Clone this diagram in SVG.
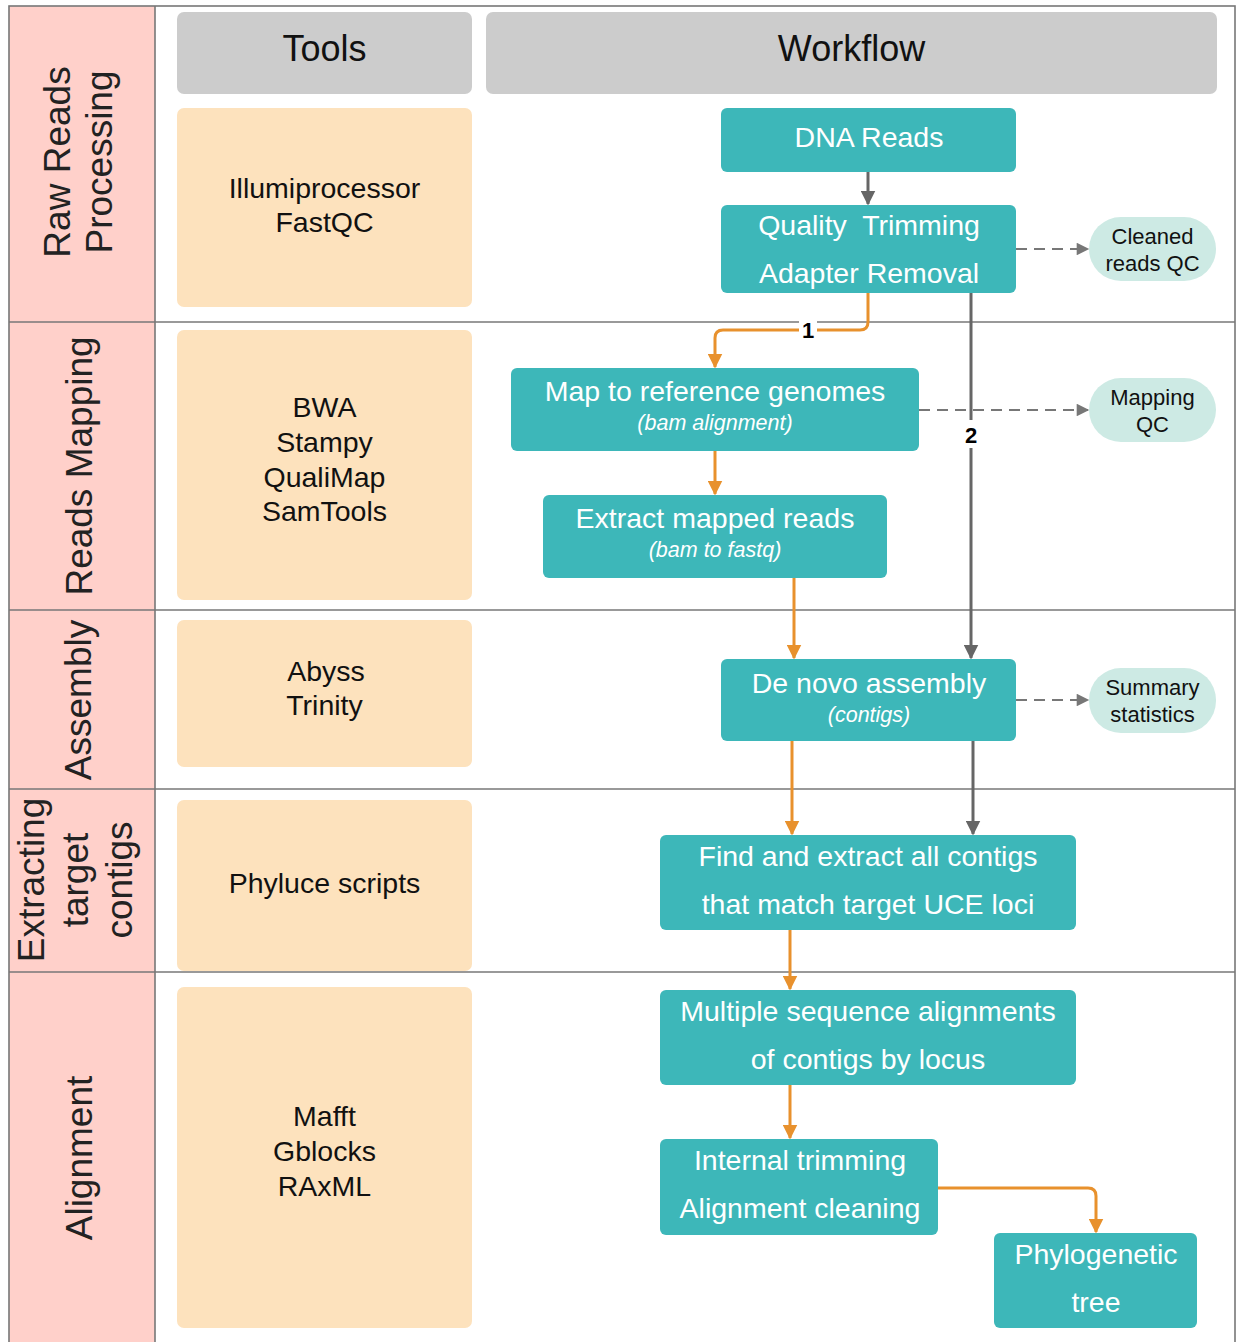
<svg xmlns="http://www.w3.org/2000/svg" width="1236" height="1342" viewBox="0 0 1236 1342">
<style>
text{font-family:"Liberation Sans",Arial,sans-serif;}
.side{font-size:37px;fill:#222;text-anchor:middle;}
.hdr{font-size:36px;fill:#111;text-anchor:middle;}
.tool{font-size:28.5px;fill:#111;text-anchor:middle;}
.step{font-size:28.5px;fill:#fff;text-anchor:middle;}
.sub{font-size:21.5px;fill:#fff;text-anchor:middle;font-style:italic;}
.qc{font-size:22px;fill:#111;text-anchor:middle;}
.num{font-size:22px;font-weight:bold;fill:#000;text-anchor:middle;}
.teal{fill:#3db7b9;}
.pill{fill:#cdeae4;}
.peach{fill:#fde2bd;}
.grey{fill:#cccccc;}
.grid{stroke:#777;stroke-width:1.6;fill:none;}
.or{stroke:#e8912d;stroke-width:3;fill:none;}
.gr{stroke:#666;stroke-width:3;fill:none;}
.da{stroke:#777;stroke-width:1.8;fill:none;stroke-dasharray:11 7;}
</style>
<defs>
<marker id="aOr" viewBox="0 0 10 10" refX="9" refY="5" markerWidth="5" markerHeight="5" orient="auto" markerUnits="strokeWidth"><path d="M0,0 L10,5 L0,10 z" fill="#e8912d"/></marker>
<marker id="aGr" viewBox="0 0 10 10" refX="9" refY="5" markerWidth="5" markerHeight="5" orient="auto" markerUnits="strokeWidth"><path d="M0,0 L10,5 L0,10 z" fill="#666"/></marker>
<marker id="aDa" viewBox="0 0 10 10" refX="9" refY="5" markerWidth="8" markerHeight="7" orient="auto" markerUnits="strokeWidth"><path d="M0,0 L10,5 L0,10 z" fill="#777"/></marker>
</defs>
<rect width="1236" height="1342" fill="#fff"/>
<g id="lanes">
<rect x="9" y="6" width="146" height="1340" fill="#ffd0ca"/>
<rect x="9" y="6" width="1226" height="1340" class="grid"/>
<line x1="155" y1="6" x2="155" y2="1342" class="grid"/>
<line x1="9" y1="322" x2="1235" y2="322" class="grid"/>
<line x1="9" y1="610" x2="1235" y2="610" class="grid"/>
<line x1="9" y1="789" x2="1235" y2="789" class="grid"/>
<line x1="9" y1="972" x2="1235" y2="972" class="grid"/>
<text class="side" transform="translate(80,162) rotate(-90)"><tspan x="0" y="-10">Raw Reads</tspan><tspan x="0" y="32">Processing</tspan></text>
<text class="side" transform="translate(80,466) rotate(-90)" x="0" y="12">Reads Mapping</text>
<text class="side" transform="translate(80,700) rotate(-90)" x="0" y="11">Assembly</text>
<text class="side" transform="translate(80,880) rotate(-90)"><tspan x="0" y="-36">Extracting</tspan><tspan x="0" y="8">target</tspan><tspan x="0" y="52">contigs</tspan></text>
<text class="side" transform="translate(80,1158) rotate(-90)" x="0" y="12">Alignment</text>
</g>
<g id="headers">
<rect x="177" y="12" width="295" height="82" rx="7" class="grey"/>
<text class="hdr" x="324.5" y="61">Tools</text>
<rect x="486" y="12" width="731" height="82" rx="7" class="grey"/>
<text class="hdr" x="851.5" y="61">Workflow</text>
</g>
<g id="tools">
<rect x="177" y="108" width="295" height="199" rx="7" class="peach"/>
<text class="tool" x="324.5" y="198">Illumiprocessor</text>
<text class="tool" x="324.5" y="232">FastQC</text>
<rect x="177" y="330" width="295" height="270" rx="7" class="peach"/>
<text class="tool" x="324.5" y="417">BWA</text>
<text class="tool" x="324.5" y="452">Stampy</text>
<text class="tool" x="324.5" y="487">QualiMap</text>
<text class="tool" x="324.5" y="521">SamTools</text>
<rect x="177" y="620" width="295" height="147" rx="7" class="peach"/>
<text class="tool" x="326" y="681">Abyss</text>
<text class="tool" x="324.5" y="715">Trinity</text>
<rect x="177" y="800" width="295" height="171" rx="7" class="peach"/>
<text class="tool" x="324.5" y="893">Phyluce scripts</text>
<rect x="177" y="987" width="295" height="341" rx="7" class="peach"/>
<text class="tool" x="324.5" y="1126">Mafft</text>
<text class="tool" x="324.5" y="1161">Gblocks</text>
<text class="tool" x="324.5" y="1196">RAxML</text>
</g>
<g id="connectors">
<line x1="868" y1="172" x2="868" y2="204" class="gr" marker-end="url(#aGr)"/>
<path d="M868,293 V322 Q868,330 860,330 H723 Q715,330 715,338 V367" class="or" marker-end="url(#aOr)"/>
<rect x="799" y="319" width="18" height="24" fill="#fff"/>
<text class="num" x="808" y="338">1</text>
<line x1="971" y1="293" x2="971" y2="658" class="gr" marker-end="url(#aGr)"/>
<rect x="961" y="420" width="20" height="28" fill="#fff"/>
<text class="num" x="971" y="443">2</text>
<line x1="1016" y1="249" x2="1088" y2="249" class="da" marker-end="url(#aDa)"/>
<line x1="919" y1="410" x2="1088" y2="410" class="da" marker-end="url(#aDa)"/>
<line x1="715" y1="451" x2="715" y2="494" class="or" marker-end="url(#aOr)"/>
<line x1="794" y1="578" x2="794" y2="658" class="or" marker-end="url(#aOr)"/>
<line x1="1016" y1="700" x2="1088" y2="700" class="da" marker-end="url(#aDa)"/>
<line x1="792" y1="741" x2="792" y2="834" class="or" marker-end="url(#aOr)"/>
<line x1="973" y1="741" x2="973" y2="834" class="gr" marker-end="url(#aGr)"/>
<line x1="790" y1="930" x2="790" y2="989" class="or" marker-end="url(#aOr)"/>
<line x1="790" y1="1085" x2="790" y2="1138" class="or" marker-end="url(#aOr)"/>
<path d="M938,1188 H1088 Q1096,1188 1096,1196 V1232" class="or" marker-end="url(#aOr)"/>
</g>
<g id="dna-reads">
<rect x="721" y="108" width="295" height="64" rx="6" class="teal"/>
<text class="step" x="869" y="147">DNA Reads</text>
</g>
<g id="quality-trimming">
<rect x="721" y="205" width="295" height="88" rx="6" class="teal"/>
<text class="step" x="869" y="235">Quality&#160; Trimming</text>
<text class="step" x="869" y="283">Adapter Removal</text>
</g>
<g id="cleaned-qc">
<rect x="1089" y="217" width="127" height="64" rx="32" class="pill"/>
<text class="qc" x="1152.5" y="244">Cleaned</text>
<text class="qc" x="1152.5" y="271">reads QC</text>
</g>
<g id="map-reference">
<rect x="511" y="368" width="408" height="83" rx="6" class="teal"/>
<text class="step" x="715" y="401">Map to reference genomes</text>
<text class="sub" x="715" y="430">(bam alignment)</text>
</g>
<g id="mapping-qc">
<rect x="1089" y="378" width="127" height="64" rx="32" class="pill"/>
<text class="qc" x="1152.5" y="405">Mapping</text>
<text class="qc" x="1152.5" y="432">QC</text>
</g>
<g id="extract-mapped">
<rect x="543" y="495" width="344" height="83" rx="6" class="teal"/>
<text class="step" x="715" y="528">Extract mapped reads</text>
<text class="sub" x="715" y="557">(bam to fastq)</text>
</g>
<g id="de-novo">
<rect x="721" y="659" width="295" height="82" rx="6" class="teal"/>
<text class="step" x="869" y="693">De novo assembly</text>
<text class="sub" x="869" y="722">(contigs)</text>
</g>
<g id="summary-stats">
<rect x="1089" y="668" width="127" height="65" rx="32" class="pill"/>
<text class="qc" x="1152.5" y="695">Summary</text>
<text class="qc" x="1152.5" y="722">statistics</text>
</g>
<g id="find-extract">
<rect x="660" y="835" width="416" height="95" rx="6" class="teal"/>
<text class="step" x="868" y="866">Find and extract all contigs</text>
<text class="step" x="868" y="914">that match target UCE loci</text>
</g>
<g id="msa">
<rect x="660" y="990" width="416" height="95" rx="6" class="teal"/>
<text class="step" x="868" y="1021">Multiple sequence alignments</text>
<text class="step" x="868" y="1069">of contigs by locus</text>
</g>
<g id="internal-trimming">
<rect x="660" y="1139" width="278" height="96" rx="6" class="teal"/>
<text class="step" x="800" y="1170">Internal trimming</text>
<text class="step" x="800" y="1218">Alignment cleaning</text>
</g>
<g id="phylo-tree">
<rect x="994" y="1233" width="203" height="95" rx="6" class="teal"/>
<text class="step" x="1096" y="1264">Phylogenetic</text>
<text class="step" x="1096" y="1312">tree</text>
</g>
</svg>
